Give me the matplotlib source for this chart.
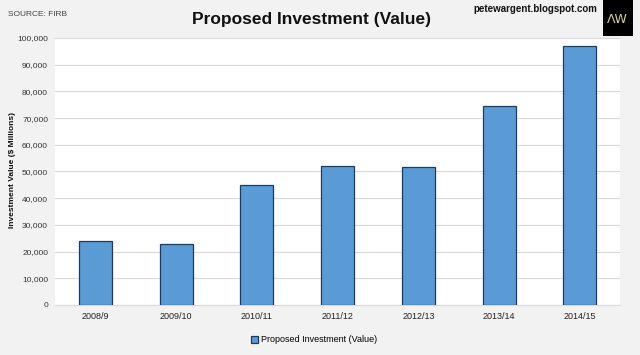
import numpy as np
import matplotlib
matplotlib.use("Agg")
from matplotlib import pyplot as plt
from matplotlib.patches import Rectangle

plt.rcParams['font.family'] = ['Liberation Sans', 'DejaVu Sans']

# data
years = ["2008/9", "2009/10", "2010/11", "2011/12", "2012/13", "2013/14", "2014/15"]
values = [23900, 22800, 45000, 52000, 51800, 74600, 97000]
yticks = list(range(0, 100001, 10000))

fig = plt.figure(figsize=(6.4, 3.55), dpi=100, facecolor="#f2f2f2")
ax = fig.add_axes([0.086, 0.141, 0.883, 0.752])
ax.set_facecolor("white")

x = np.arange(len(years))
ax.bar(x, values, width=0.41, color="#5b9bd5", edgecolor="#1f3a5a", linewidth=0.9,
       zorder=3, label="Proposed Investment (Value)")

ax.set_xlim(-0.5, len(years) - 0.5)
ax.set_ylim(0, 100000)
ax.set_yticks(yticks)
ax.set_yticklabels([f"{v:,}" for v in yticks], fontsize=6, color="#333333")
ax.set_xticks(x)
ax.set_xticklabels(years, fontsize=6.5, color="#222222")
ax.yaxis.grid(True, color="#d9d9d9", linewidth=0.8, zorder=0)
ax.tick_params(length=0, pad=5)
for s in ax.spines.values():
    s.set_visible(False)
ax.spines['bottom'].set_visible(True)
ax.spines['bottom'].set_color("#d9d9d9")

fig.text(0.019, 0.52, "Investment Value ($ Millions)", rotation=90, ha="center", va="center",
         fontsize=6, fontweight="bold", color="#111111")

fig.text(0.487, 0.945, "Proposed Investment (Value)", ha="center", va="center",
         fontsize=12.5, fontweight="bold", color="#111111")
fig.text(0.013, 0.958, "SOURCE: FIRB", ha="left", va="center", fontsize=6, color="#444444")
fig.text(0.933, 0.975, "petewargent.blogspot.com", ha="right", va="center",
         fontsize=7, fontweight="bold", color="#111111")

# AW logo box
fig.patches.append(Rectangle((0.942, 0.898), 0.047, 0.102, transform=fig.transFigure,
                             facecolor="black", edgecolor="none"))
fig.text(0.965, 0.945, "ΛW", ha="center", va="center", fontsize=9, color="#d8cfa0",
         family=['DejaVu Sans'])

fig.legend(loc="center", bbox_to_anchor=(0.49, 0.043), frameon=False, fontsize=6.5,
           handlelength=0.8, handleheight=0.8, handletextpad=0.3)

fig.savefig("out.png", dpi=100, facecolor=fig.get_facecolor())
